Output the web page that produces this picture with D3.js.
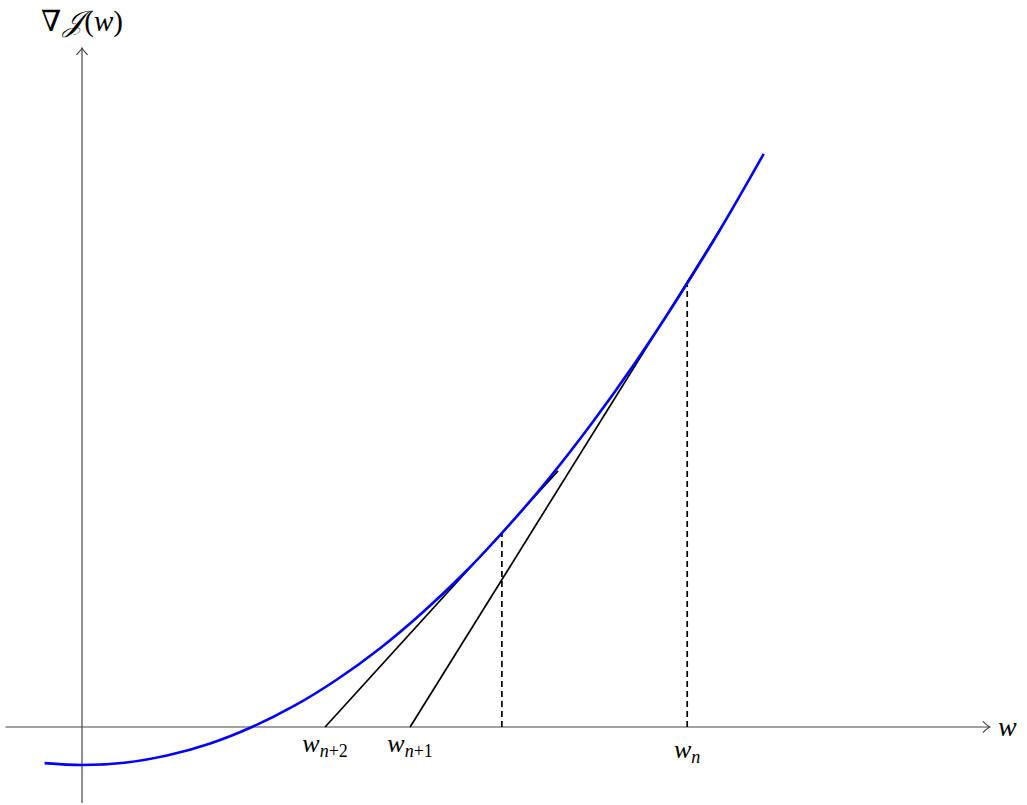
<!DOCTYPE html>
<html lang="en">
<head>
    <meta charset="UTF-8">
    <title>Newton step on the gradient</title>
    <script src="https://d3js.org/d3.v7.min.js"></script>
    <style>
        body { margin: 0; background: #fff; }
        .axis { stroke: #444; stroke-width: 1.2px; fill: none; }
        .curve { stroke: #0000ff; stroke-width: 2.6px; fill: none; }
        .tangent { stroke: #000; stroke-width: 1.7px; fill: none; }
        .drop { stroke: #000; stroke-width: 1.7px; stroke-dasharray: 6 4; fill: none; }
        text { font-family: "Liberation Serif", "Times New Roman", "DejaVu Serif", serif; fill: #000; }
    </style>
</head>
<body>
<svg width="1027" height="805"></svg>
<script>
    // curve samples
    const curveW = [-0.22, 0, 0.25, 0.5, 0.75, 1, 1.25, 1.5, 1.75, 2, 2.25, 2.5, 2.75, 3, 3.25, 3.5, 3.75, 4.01];
    const curveF = [-0.95, -1, -0.94, -0.75, -0.44, 0, 0.56, 1.25, 2.06, 3, 4.06, 5.25, 6.56, 8, 9.56, 11.25, 13.06, 15.08];

    // tangent segments [w0, f0, w1, f1]
    const tangents = [
        [1.93, 0, 3.78, 13.29],
        [1.43, 0, 2.8, 6.74]
    ];
    // dashed drops from the curve to the axis
    const dropW = [2.47, 3.56];
    const dropF = [5.1, 11.63];

    const tickW = [3.56, 1.93, 1.43];
    const tickSub = [["n", ""], ["n", "+1"], ["n", "+2"]];

    const xDomain = [-0.45, 5.34];
    const yDomain = [-2.0, 17.87];

    const svg = d3.select("svg");
    const x = d3.scaleLinear().domain([0, 1]).range([82, 252]);
    const y = d3.scaleLinear().domain([0, 1]).range([727, 689]);

    // arrow tip like tikz "->"
    function arrowTip(px, py, dir) {
        const s = 7;
        let d;
        if (dir === "right") d = `M${px - s},${py - s * 0.8} Q${px - 2},${py - 1} ${px},${py} Q${px - 2},${py + 1} ${px - s},${py + s * 0.8}`;
        else d = `M${px - s * 0.8},${py + s} Q${px - 1},${py + 2} ${px},${py} Q${px + 1},${py + 2} ${px + s * 0.8},${py + s}`;
        svg.append("path").attr("class", "axis").attr("d", d);
    }

    // axes
    svg.append("line").attr("class", "axis")
        .attr("x1", x(xDomain[0])).attr("x2", x(xDomain[1]))
        .attr("y1", y(0)).attr("y2", y(0));
    arrowTip(x(xDomain[1]), y(0), "right");
    svg.append("line").attr("class", "axis")
        .attr("x1", x(0)).attr("x2", x(0))
        .attr("y1", y(yDomain[0])).attr("y2", y(yDomain[1]));
    arrowTip(x(0), y(yDomain[1]), "up");

    // tangents
    tangents.forEach(t => {
        svg.append("line").attr("class", "tangent")
            .attr("x1", x(t[0])).attr("y1", y(t[1]))
            .attr("x2", x(t[2])).attr("y2", y(t[3]));
    });

    // dashed drops
    dropW.forEach((w, i) => {
        svg.append("line").attr("class", "drop")
            .attr("x1", x(w)).attr("x2", x(w))
            .attr("y1", y(0)).attr("y2", y(dropF[i]));
    });

    // the curve
    const pts = curveW.map((w, i) => [w, curveF[i]]);
    const line = d3.line().x(d => x(d[0])).y(d => y(d[1])).curve(d3.curveCatmullRom);
    svg.append("path").attr("class", "curve").attr("d", line(pts));

    // labels
    const yl = svg.append("text").attr("x", 82).attr("y", 31)
        .attr("text-anchor", "middle").style("font-size", "29px");
    yl.append("tspan").text("∇");
    yl.append("tspan").attr("dx", 2).style("font-style", "italic").text("𝒥");
    yl.append("tspan").attr("dx", 1).text("(");
    yl.append("tspan").style("font-style", "italic").text("w");
    yl.append("tspan").text(")");

    svg.append("text").attr("x", 998).attr("y", 736)
        .style("font-size", "28px").style("font-style", "italic").text("w");

    tickW.forEach((w, i) => {
        const t = svg.append("text")
            .attr("x", x(w))
            .attr("y", i === 0 ? 758 : 752)
            .attr("text-anchor", "middle")
            .style("font-size", "26px");
        t.append("tspan").style("font-style", "italic").text("w");
        t.append("tspan").attr("dy", 5).style("font-size", "18px").style("font-style", "italic")
            .text(tickSub[i][0]);
        t.append("tspan").style("font-size", "18px").text(tickSub[i][1]);
    });
</script>
</body>
</html>
